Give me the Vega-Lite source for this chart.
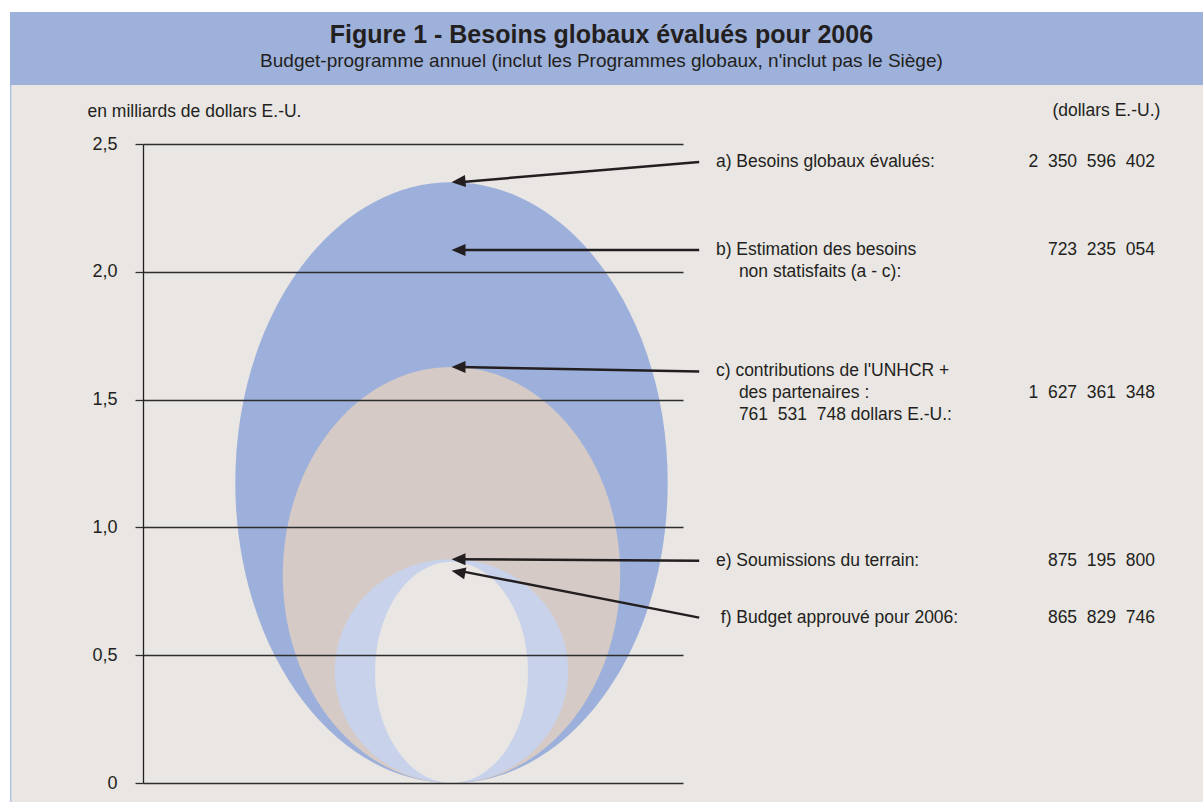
{
  "$schema": "https://vega.github.io/schema/vega-lite/v6.json",
  "width": 540,
  "height": 639,
  "autosize": {"type": "none"},
  "padding": {"left": 143, "top": 144, "right": 520, "bottom": 19},
  "background": "#ffffff",
  "config": {"view": {"stroke": null}},
  "datasets": {
    "besoins": [
      {"poste": "a", "libelle": "Besoins globaux évalués", "montant_mrd": 2.350596402},
      {"poste": "c", "libelle": "Contributions de l'UNHCR + des partenaires", "montant_mrd": 1.627361348},
      {"poste": "e", "libelle": "Soumissions du terrain", "montant_mrd": 0.8751958},
      {"poste": "f", "libelle": "Budget approuvé pour 2006", "montant_mrd": 0.865829746}
    ],
    "notes": [
      {"poste": "a", "texte": "a) Besoins globaux évalués:", "montant": "2\u2007350\u2007596\u2007402", "ancre": 2.43, "cible": 2.350596402},
      {"poste": "b", "texte": "b) Estimation des besoins\n\u200b\u00a0\u00a0\u00a0\u00a0\u2009non statisfaits (a - c):", "montant": "723\u2007235\u2007054", "ancre": 2.085, "cible": 2.085},
      {"poste": "c", "texte": "c) contributions de l'UNHCR +\n\u200b\u00a0\u00a0\u00a0\u00a0\u2009des partenaires :\n\u200b\u00a0\u00a0\u00a0\u00a0\u2009761\u2007531\u2007748 dollars E.-U.:", "montant": "1\u2007627\u2007361\u2007348", "ancre": 1.61, "cible": 1.627361348},
      {"poste": "e", "texte": "e) Soumissions du terrain:", "montant": "875\u2007195\u2007800", "ancre": 0.87, "cible": 0.8751958},
      {"poste": "f", "texte": "\u200b\u2008f) Budget approuvé pour 2006:", "montant": "865\u2007829\u2007746", "ancre": 0.647, "cible": 0.83}
    ]
  },
  "resolve": {"scale": {"shape": "independent", "size": "independent", "color": "independent"}},
  "layer": [
    {
      "data": {"values": [{}]},
      "mark": {"type": "rect", "fill": "#e9e6e3"},
      "encoding": {
        "x": {"datum": -24.63, "type": "quantitative", "scale": {"domain": [0, 100], "nice": false, "zero": false}, "axis": null},
        "x2": {"datum": 196.3},
        "y": {"datum": 2.7308, "type": "quantitative", "scale": {"domain": [0, 2.5], "nice": false, "zero": false}},
        "y2": {"datum": -0.0743}
      }
    },
    {
      "data": {"values": [{}]},
      "mark": {"type": "rect", "fill": "#9db1db"},
      "encoding": {
        "x": {"datum": -24.63, "type": "quantitative", "axis": null},
        "x2": {"datum": 196.3},
        "y": {"datum": 3.0164, "type": "quantitative"},
        "y2": {"datum": 2.7308}
      }
    },
    {
      "data": {"values": [{}]},
      "mark": {"type": "rule", "stroke": "#b4c3e5", "strokeWidth": 1.5},
      "encoding": {
        "x": {"datum": -24.5, "type": "quantitative", "axis": null},
        "y": {"datum": 2.7308, "type": "quantitative"},
        "y2": {"datum": -0.0743}
      }
    },
    {
      "data": {"values": [{}]},
      "mark": {"type": "text", "text": "Figure 1 - Besoins globaux évalués pour 2006", "font": "Liberation Sans", "fontSize": 25, "fontWeight": "bold", "fill": "#231f20", "align": "center", "baseline": "alphabetic"},
      "encoding": {
        "x": {"datum": 84.9, "type": "quantitative", "axis": null},
        "y": {"datum": 2.894, "type": "quantitative"}
      }
    },
    {
      "data": {"values": [{}]},
      "mark": {"type": "text", "text": "Budget-programme annuel (inclut les Programmes globaux, n'inclut pas le Siège)", "font": "Liberation Sans", "fontSize": 19, "fill": "#231f20", "align": "center", "baseline": "alphabetic"},
      "encoding": {
        "x": {"datum": 84.9, "type": "quantitative", "axis": null},
        "y": {"datum": 2.8, "type": "quantitative"}
      }
    },
    {
      "data": {"values": [{}]},
      "mark": {"type": "text", "text": "(dollars E.-U.)", "font": "Liberation Sans", "fontSize": 17.5, "fill": "#231f20", "align": "right", "baseline": "alphabetic"},
      "encoding": {
        "x": {"datum": 188.4, "type": "quantitative", "axis": null},
        "y": {"datum": 2.6095, "type": "quantitative"}
      }
    },
    {
      "data": {"name": "besoins"},
      "mark": {"type": "point", "filled": true, "opacity": 1, "strokeWidth": 0},
      "encoding": {
        "x": {"datum": 57.13, "type": "quantitative", "axis": null},
        "y": {
          "field": "montant_mrd",
          "type": "quantitative",
          "scale": {"domain": [0, 2.5], "nice": false, "zero": false},
          "axis": {
            "values": [0, 0.5, 1, 1.5, 2, 2.5],
            "labelExpr": "datum.value == 0 ? '0' : replace(format(datum.value, '.1f'), '.', ',')",
            "grid": true,
            "gridColor": "#2e2e2e",
            "gridWidth": 1.3,
            "domain": true,
            "domainColor": "#231f20",
            "domainWidth": 1.3,
            "ticks": true,
            "tickSize": 8,
            "tickColor": "#2e2e2e",
            "tickWidth": 1.3,
            "labelPadding": 18,
            "labelFont": "Liberation Sans",
            "labelFontSize": 18,
            "labelColor": "#231f20",
            "labelOverlap": false,
            "title": "en milliards de dollars E.-U.",
            "titleAngle": 0,
            "titleAlign": "left",
            "titleBaseline": "alphabetic",
            "titleX": -56,
            "titleY": -28,
            "titleFont": "Liberation Sans",
            "titleFontSize": 17.5,
            "titleFontWeight": "normal",
            "titleColor": "#231f20",
            "zindex": 1
          }
        },
        "size": {
          "field": "montant_mrd",
          "type": "quantitative",
          "scale": {"type": "pow", "exponent": 2, "domain": [0, 2.5], "range": [0, 408321]},
          "legend": null
        },
        "shape": {
          "field": "poste",
          "type": "nominal",
          "scale": {
            "domain": ["a", "c", "e", "f"],
            "range": [
              "M0,0C0.3975,0 0.7197,0.4477 0.7197,1C0.7197,1.5523 0.3975,2 0,2C-0.3975,2 -0.7197,1.5523 -0.7197,1C-0.7197,0.4477 -0.3975,0 0,0Z",
              "M0,0C0.4479,0 0.811,0.4477 0.811,1C0.811,1.5523 0.4479,2 0,2C-0.4479,2 -0.811,1.5523 -0.811,1C-0.811,0.4477 -0.4479,0 0,0Z",
              "M0,0C0.5762,0 1.0434,0.4477 1.0434,1C1.0434,1.5523 0.5762,2 0,2C-0.5762,2 -1.0434,1.5523 -1.0434,1C-1.0434,0.4477 -0.5762,0 0,0Z",
              "M0,0C0.3818,0 0.6914,0.4477 0.6914,1C0.6914,1.5523 0.3818,2 0,2C-0.3818,2 -0.6914,1.5523 -0.6914,1C-0.6914,0.4477 -0.3818,0 0,0Z"
            ]
          },
          "legend": null
        },
        "color": {
          "field": "poste",
          "type": "nominal",
          "scale": {"domain": ["a", "c", "e", "f"], "range": ["#9cb0db", "#d5cac6", "#c8d3eb", "#e9e6e3"]},
          "legend": null
        }
      }
    },
    {
      "data": {"name": "notes"},
      "mark": {"type": "rule", "stroke": "#231f20", "strokeWidth": 2.5, "x2Offset": 8},
      "encoding": {
        "x": {"datum": 103, "type": "quantitative", "axis": null},
        "x2": {"datum": 57.13},
        "y": {"field": "ancre", "type": "quantitative"},
        "y2": {"field": "cible"}
      }
    },
    {
      "data": {"name": "notes"},
      "mark": {"type": "point", "filled": true, "opacity": 1, "strokeWidth": 0, "size": 4, "fill": "#231f20"},
      "encoding": {
        "x": {"datum": 57.13, "type": "quantitative", "axis": null},
        "y": {"field": "cible", "type": "quantitative"},
        "shape": {
          "field": "poste",
          "type": "nominal",
          "scale": {
            "domain": ["a", "b", "c", "e", "f"],
            "range": [
              "M0,0L14.45,4.81L13.45,-7.15Z",
              "M0,0L14,-6L14,6Z",
              "M0,0L14,-6L14,6Z",
              "M0,0L14,-6L14,6Z",
              "M0,0L12.63,8.52L14.88,-3.26Z"
            ]
          },
          "legend": null
        }
      }
    },
    {
      "data": {"name": "notes"},
      "mark": {"type": "text", "font": "Liberation Sans", "fontSize": 17.5, "fill": "#231f20", "align": "left", "baseline": "alphabetic", "dy": 5, "lineBreak": "\n", "lineHeight": 22},
      "encoding": {
        "x": {"datum": 106.1, "type": "quantitative", "axis": null},
        "y": {"field": "ancre", "type": "quantitative"},
        "text": {"field": "texte", "type": "nominal"}
      }
    },
    {
      "data": {"name": "notes"},
      "transform": [{"filter": "datum.poste != 'c'"}],
      "mark": {"type": "text", "font": "Liberation Sans", "fontSize": 17.5, "fill": "#231f20", "align": "right", "baseline": "alphabetic", "dy": 5},
      "encoding": {
        "x": {"datum": 187.4, "type": "quantitative", "axis": null},
        "y": {"field": "ancre", "type": "quantitative"},
        "text": {"field": "montant", "type": "nominal"}
      }
    },
    {
      "data": {"name": "notes"},
      "transform": [{"filter": "datum.poste == 'c'"}],
      "mark": {"type": "text", "font": "Liberation Sans", "fontSize": 17.5, "fill": "#231f20", "align": "right", "baseline": "alphabetic", "dy": 27},
      "encoding": {
        "x": {"datum": 187.4, "type": "quantitative", "axis": null},
        "y": {"field": "ancre", "type": "quantitative"},
        "text": {"field": "montant", "type": "nominal"}
      }
    }
  ]
}
